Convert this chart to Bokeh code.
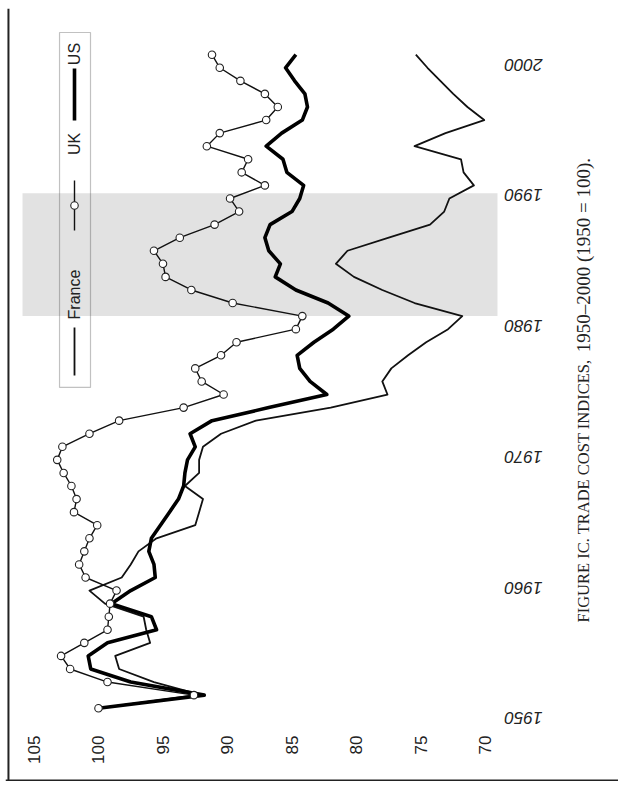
from math import pi
from bokeh.plotting import figure
from bokeh.models import Range1d, BoxAnnotation, Span
from bokeh.embed import file_html
from bokeh.resources import INLINE
from bokeh.core.properties import value

# ---------------- data ----------------
years = list(range(1950, 2001))

france = [100.0, 92.0, 95.7, 98.4, 98.7, 96.0, 96.3, 96.5, 99.5, 100.7,
          98.2, 97.5, 96.9, 95.5, 92.5, 92.2, 91.9, 93.3, 92.2, 92.2,
          91.9, 90.5, 87.8, 82.0, 77.6, 78.0, 77.3, 76.0, 74.6, 72.9,
          71.8, 75.5, 78.0, 80.2, 81.6, 80.7, 77.5, 74.3, 73.2, 72.8,
          70.9, 71.7, 71.9, 75.5, 73.1, 70.1, 71.4, 72.5, 73.5, 74.5,
          75.4]

uk = [100.0, 92.6, 99.3, 102.2, 102.9, 101.1, 99.3, 99.2, 99.1, 98.6,
      101.0, 101.5, 101.1, 100.7, 100.1, 101.9, 101.7, 102.1, 102.7, 103.2,
      102.8, 100.7, 98.4, 93.4, 90.3, 92.0, 92.5, 90.5, 89.3, 84.7,
      84.2, 89.6, 92.8, 94.8, 95.0, 95.7, 93.7, 91.0, 89.1, 89.8,
      87.1, 88.9, 88.4, 91.6, 90.6, 87.0, 86.1, 87.1, 89.0, 90.6,
      91.2]

us = [100.0, 91.8, 97.5, 100.6, 100.8, 99.3, 95.5, 95.9, 99.0, 97.5,
      95.6, 95.7, 96.1, 95.9, 95.2, 94.5, 93.8, 93.4, 93.3, 93.1,
      92.5, 92.9, 91.2, 86.8, 82.3, 83.6, 84.4, 84.6, 83.3, 81.8,
      80.6, 82.2, 84.7, 86.3, 85.9, 86.8, 87.1, 86.7, 85.0, 84.4,
      84.1, 85.4, 85.7, 87.0, 85.8, 84.2, 83.8, 84.0, 84.8, 85.5,
      84.7]

value_ticks = [70, 75, 80, 85, 90, 95, 100, 105]
value_labels = [str(v) for v in value_ticks]
year_ticks = [1950, 1960, 1970, 1980, 1990, 2000]
year_labels = [str(y) for y in year_ticks]
band_start, band_end = 1980, 1989.4
series_names = ["France", "UK", "US"]
caption_words = "FIGURE IC. TRADE COST INDICES,"
caption_numbers = "1950\u20132000 (1950 = 100)."

# ---------------- figure ----------------
p = figure(width=613, height=773,
           x_range=Range1d(107.209, 59.69), y_range=Range1d(1944.392, 2003.535),
           output_backend="svg", toolbar_location=None,
           x_axis_location=None, y_axis_location=None,
           min_border_left=0, min_border_right=0,
           min_border_top=0, min_border_bottom=0)
p.styles = {"margin-left": "5px", "margin-top": "8px"}
p.outline_line_color = None
p.grid.visible = False
p.background_fill_color = "white"
p.border_fill_color = "white"

# page frame lines (left and bottom), as in the scanned page
p.add_layout(Span(location=106.98, dimension="height", line_color="#222", line_width=2))
p.add_layout(Span(location=1944.47, dimension="width", line_color="#222", line_width=2))

# shaded period
p.add_layout(BoxAnnotation(bottom=band_start, top=band_end, left=105.89, right=69.07,
                           fill_color="#e2e2e2", fill_alpha=1.0,
                           line_color=None, level="underlay"))

# series
p.line(france, years, line_width=1.8, line_color="#111", line_join="round")
p.line(uk, years, line_width=1.4, line_color="#111", line_join="round")
p.line(us, years, line_width=3.6, line_color="#000", line_join="round")
p.scatter(uk, years, size=7.5, fill_color="white", line_color="#222", line_width=1.1)

# value tick labels (rotated, read bottom to top)
p.text(x=value_ticks, y=[1947.91] * len(value_ticks), text=value_labels, angle=pi / 2,
       text_align="right", text_baseline="middle",
       text_font=value("Liberation Sans"), text_font_size="17px", text_color="#222")

# year tick labels (upside down, as in the rotated page)
p.text(x=[67.05] * len(year_ticks), y=year_ticks, text=year_labels, angle=pi,
       y_offset=10, text_align="center", text_baseline="middle",
       text_font=value("Liberation Sans"), text_font_size="17px",
       text_font_style="italic", text_color="#222")

# legend (drawn rotated, like the reference)
lx = 101.86
p.add_layout(BoxAnnotation(left=103.02, right=100.62, bottom=1974.54, top=2001.70,
                           fill_alpha=0.0, line_color="#333", line_width=1.2))
p.segment(x0=[lx], y0=[1975.45], x1=[lx], y1=[1979.13], line_width=1.8, line_color="#111")
p.segment(x0=[lx], y0=[1986.55], x1=[lx], y1=[1990.37], line_width=1.4, line_color="#111")
p.scatter([lx], [1988.46], size=7.5, fill_color="white", line_color="#222", line_width=1.1)
p.segment(x0=[lx], y0=[1994.96], x1=[lx], y1=[1998.94], line_width=3.6, line_color="#000")
p.text(x=[lx, lx, lx], y=[1981.65, 1993.17, 2000.05], text=series_names,
       angle=pi / 2, text_align="center", text_baseline="middle",
       text_font=value("Liberation Sans"), text_font_size="16px", text_color="#222")

# caption (rotated, reads bottom to top)
p.text(x=[62.40], y=[1956.56], text=[caption_words], angle=pi / 2,
       text_align="left", text_baseline="middle",
       text_font=value("Liberation Serif"), text_font_size="16.5px", text_color="#222")
p.text(x=[62.40], y=[1977.23], text=[caption_numbers], angle=pi / 2,
       text_align="left", text_baseline="middle",
       text_font=value("Liberation Serif"), text_font_size="19px", text_color="#222")

open("out.html", "w").write(file_html(p, INLINE))
